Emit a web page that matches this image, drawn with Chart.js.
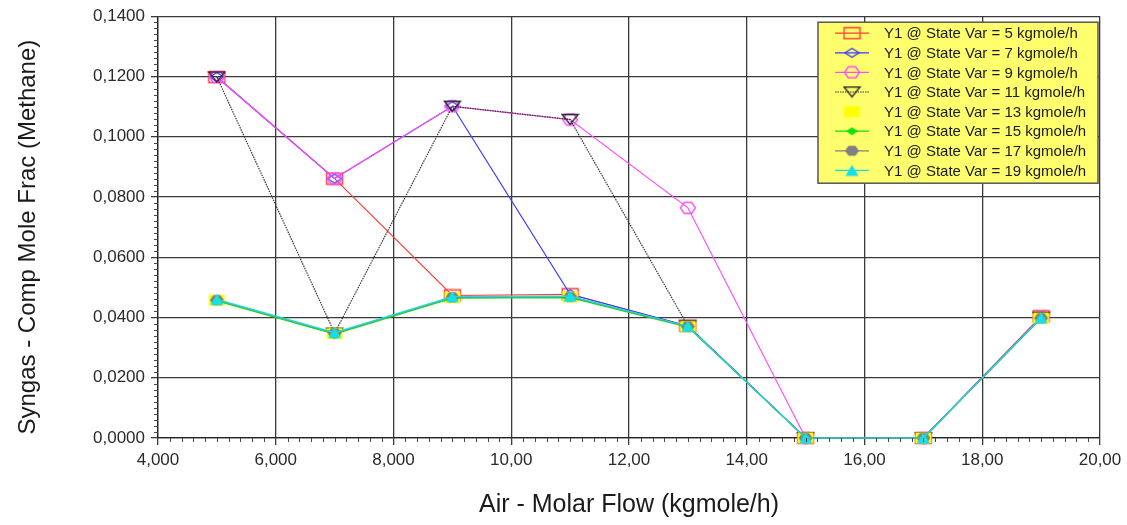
<!DOCTYPE html>
<html>
<head>
<meta charset="utf-8">
<script src="https://cdn.jsdelivr.net/npm/chart.js@4/dist/chart.umd.min.js"></script>
<style>
html,body{margin:0;padding:0;background:#fff;}
canvas{display:block;}
</style>
</head>
<body>
<canvas id="c" width="1127" height="525"></canvas>
<script>
// ---- data ----
const airFlow = [5, 7, 9, 11, 13, 15, 17, 19];
const seriesNames = [
  "Y1 @ State Var = 5 kgmole/h",
  "Y1 @ State Var = 7 kgmole/h",
  "Y1 @ State Var = 9 kgmole/h",
  "Y1 @ State Var = 11 kgmole/h",
  "Y1 @ State Var = 13 kgmole/h",
  "Y1 @ State Var = 15 kgmole/h",
  "Y1 @ State Var = 17 kgmole/h",
  "Y1 @ State Var = 19 kgmole/h"
];
const sv5  = [0.1198, 0.0861, 0.0473, 0.0477, 0.0372, 0.0000, 0.0000, 0.0404];
const sv7  = [0.1198, 0.0861, 0.1101, 0.0477, 0.0372, 0.0000, 0.0000, 0.0400];
const sv9  = [0.1198, 0.0861, 0.1101, 0.1057, 0.0764, 0.0000, 0.0000, 0.0400];
const sv11 = [0.1198, 0.0348, 0.1101, 0.1057, 0.0372, 0.0000, 0.0000, 0.0400];
const sv13 = [0.0457, 0.0347, 0.0466, 0.0468, 0.0370, 0.0000, 0.0000, 0.0398];
const sv15 = [0.0455, 0.0345, 0.0464, 0.0466, 0.0368, 0.0000, 0.0000, 0.0397];
const sv17 = [0.0458, 0.0348, 0.0467, 0.0469, 0.0370, 0.0000, 0.0000, 0.0398];
const sv19 = [0.0460, 0.0350, 0.0469, 0.0471, 0.0371, 0.0000, 0.0000, 0.0399];
const xTickLabels = ["4,000", "6,000", "8,000", "10,00", "12,00", "14,00", "16,00", "18,00", "20,00"];
const yTickLabels = ["0,0000", "0,0200", "0,0400", "0,0600", "0,0800", "0,1000", "0,1200", "0,1400"];

// ---- marker images ----
function makeMarker(shape, w, h, stroke, fill) {
  const c = document.createElement('canvas');
  c.width = w + 2; c.height = h + 2;
  const g = c.getContext('2d');
  g.translate(1, 1);
  g.beginPath();
  if (shape === 'rect') { g.rect(0.5, 0.5, w - 1, h - 1); }
  else if (shape === 'diamond') { g.moveTo(w/2, 0.5); g.lineTo(w-0.5, h/2); g.lineTo(w/2, h-0.5); g.lineTo(0.5, h/2); g.closePath(); }
  else if (shape === 'hex') { g.moveTo(w*0.27, 0.5); g.lineTo(w*0.73, 0.5); g.lineTo(w-0.5, h/2); g.lineTo(w*0.73, h-0.5); g.lineTo(w*0.27, h-0.5); g.lineTo(0.5, h/2); g.closePath(); }
  else if (shape === 'tridown') { g.moveTo(0.5, 0.5); g.lineTo(w-0.5, 0.5); g.lineTo(w/2, h-0.5); g.closePath(); }
  else if (shape === 'triup') { g.moveTo(w/2, 0.5); g.lineTo(w-0.5, h-0.5); g.lineTo(0.5, h-0.5); g.closePath(); }
  if (fill) { g.fillStyle = fill; g.fill(); }
  if (stroke) { g.strokeStyle = stroke; g.lineWidth = 1.4; g.stroke(); }
  return c;
}

const styles = [
  { color: '#ff3b3b', marker: makeMarker('rect', 17, 12, '#ff3b3b', null), dash: [], line: true },
  { color: '#3a3aff', marker: makeMarker('diamond', 15, 10, '#3a3aff', null), dash: [], line: true },
  { color: '#ff4dff', marker: makeMarker('hex', 16, 12, '#ff4dff', null), dash: [], line: true },
  { color: '#333333', marker: makeMarker('tridown', 17, 11, '#222', null), dash: [1.5, 1], line: true },
  { color: '#ffff00', marker: makeMarker('rect', 17, 12, null, '#ffff00'), dash: [], line: false },
  { color: '#10e010', marker: makeMarker('diamond', 13, 9, null, '#10e010'), dash: [], line: true },
  { color: '#808080', marker: makeMarker('hex', 15, 11, null, '#808080'), dash: [], line: true },
  { color: '#14e0e6', marker: makeMarker('triup', 14, 12, null, '#14e0e6'), dash: [], line: true }
];
const allSeries = [sv5, sv7, sv9, sv11, sv13, sv15, sv17, sv19];

const datasets = allSeries.map((vals, i) => ({
  label: seriesNames[i],
  data: airFlow.map((x, k) => ({ x: x, y: vals[k] })),
  borderColor: styles[i].color,
  backgroundColor: styles[i].color,
  borderWidth: 1.2,
  borderDash: styles[i].dash,
  showLine: styles[i].line,
  pointStyle: styles[i].marker,
  pointRadius: 6,
  tension: 0,
  clip: false,
  order: allSeries.length - 1 - i
}));

// ---- plugins ----
const minorTicks = {
  id: 'minorTicks',
  afterDraw(chart) {
    const ctx = chart.ctx, xs = chart.scales.x, ys = chart.scales.y, a = chart.chartArea;
    ctx.save();
    ctx.strokeStyle = '#444';
    ctx.lineWidth = 1;
    ctx.beginPath();
    for (let k = 0; k <= 70; k++) {
      if (k % 10 === 0) continue;
      const py = Math.round(ys.getPixelForValue(k * 0.002)) + 0.5;
      ctx.moveTo(a.left - 4, py); ctx.lineTo(a.left, py);
    }
    for (let k = 0; k <= 80; k++) {
      if (k % 10 === 0) continue;
      const px = Math.round(xs.getPixelForValue(4 + k * 0.2)) + 0.5;
      ctx.moveTo(px, a.bottom); ctx.lineTo(px, a.bottom + 4);
    }
    ctx.stroke();
    ctx.restore();
  }
};

const boxLegend = {
  id: 'boxLegend',
  afterDraw(chart) {
    const ctx = chart.ctx, a = chart.chartArea;
    const bx = a.right - 282, by = a.top + 6, bw = 280, bh = 161;
    ctx.save();
    ctx.fillStyle = '#ffff6e';
    ctx.fillRect(bx, by, bw, bh);
    ctx.strokeStyle = '#555';
    ctx.lineWidth = 1.5;
    ctx.strokeRect(bx, by, bw, bh);
    ctx.font = '15px "Liberation Sans", Arial, sans-serif';
    ctx.textBaseline = 'middle';
    ctx.textAlign = 'left';
    chart.data.datasets.forEach((ds, i) => {
      const cy = by + 11 + i * 19.6;
      const st = styles[i];
      if (st.line) {
        ctx.save();
        ctx.strokeStyle = st.color;
        ctx.lineWidth = 1.2;
        ctx.setLineDash(st.dash);
        ctx.beginPath();
        ctx.moveTo(bx + 17, cy); ctx.lineTo(bx + 51, cy);
        ctx.stroke();
        ctx.restore();
      }
      Chart.helpers.drawPoint(ctx, { pointStyle: st.marker, radius: 6, rotation: 0, borderWidth: 0 }, bx + 34, cy);
      ctx.fillStyle = '#1a1a1a';
      ctx.fillText(ds.label, bx + 66, cy + 1);
    });
    ctx.restore();
  }
};

new Chart(document.getElementById('c'), {
  type: 'line',
  data: { datasets: datasets },
  options: {
    responsive: false,
    animation: false,
    events: [],
    layout: { padding: { left: 0, right: 27, top: 15, bottom: 0 } },
    plugins: { legend: { display: false }, tooltip: { enabled: false } },
    scales: {
      x: {
        type: 'linear', min: 4, max: 20,
        afterFit(s) { s.height = 87; },
        ticks: {
          stepSize: 2, padding: 5, color: '#2a2a2a',
          font: { family: '"Liberation Sans", Arial, sans-serif', size: 17 },
          callback: (v, i) => xTickLabels[i]
        },
        grid: { color: '#3a3a3a', lineWidth: 1.3, tickLength: 7, drawTicks: true },
        border: { color: '#222', width: 1.3 },
        title: {
          display: true, text: 'Air - Molar Flow (kgmole/h)', color: '#1a1a1a',
          font: { family: '"Liberation Sans", Arial, sans-serif', size: 25 },
          padding: { top: 0, bottom: 5 }
        }
      },
      y: {
        type: 'linear', min: 0, max: 0.14,
        afterFit(s) { s.width = 158; },
        ticks: {
          stepSize: 0.02, padding: 6, color: '#2a2a2a',
          font: { family: '"Liberation Sans", Arial, sans-serif', size: 17 },
          callback: (v, i) => yTickLabels[i]
        },
        grid: { color: '#3a3a3a', lineWidth: 1.3, tickLength: 7, drawTicks: true },
        border: { color: '#222', width: 1.3 },
        title: {
          display: true, text: 'Syngas - Comp Mole Frac (Methane)   ', color: '#1a1a1a',
          font: { family: '"Liberation Sans", Arial, sans-serif', size: 24 },
          padding: { top: 14, bottom: 0 }
        }
      }
    }
  },
  plugins: [minorTicks, boxLegend]
});
</script>
</body>
</html>
